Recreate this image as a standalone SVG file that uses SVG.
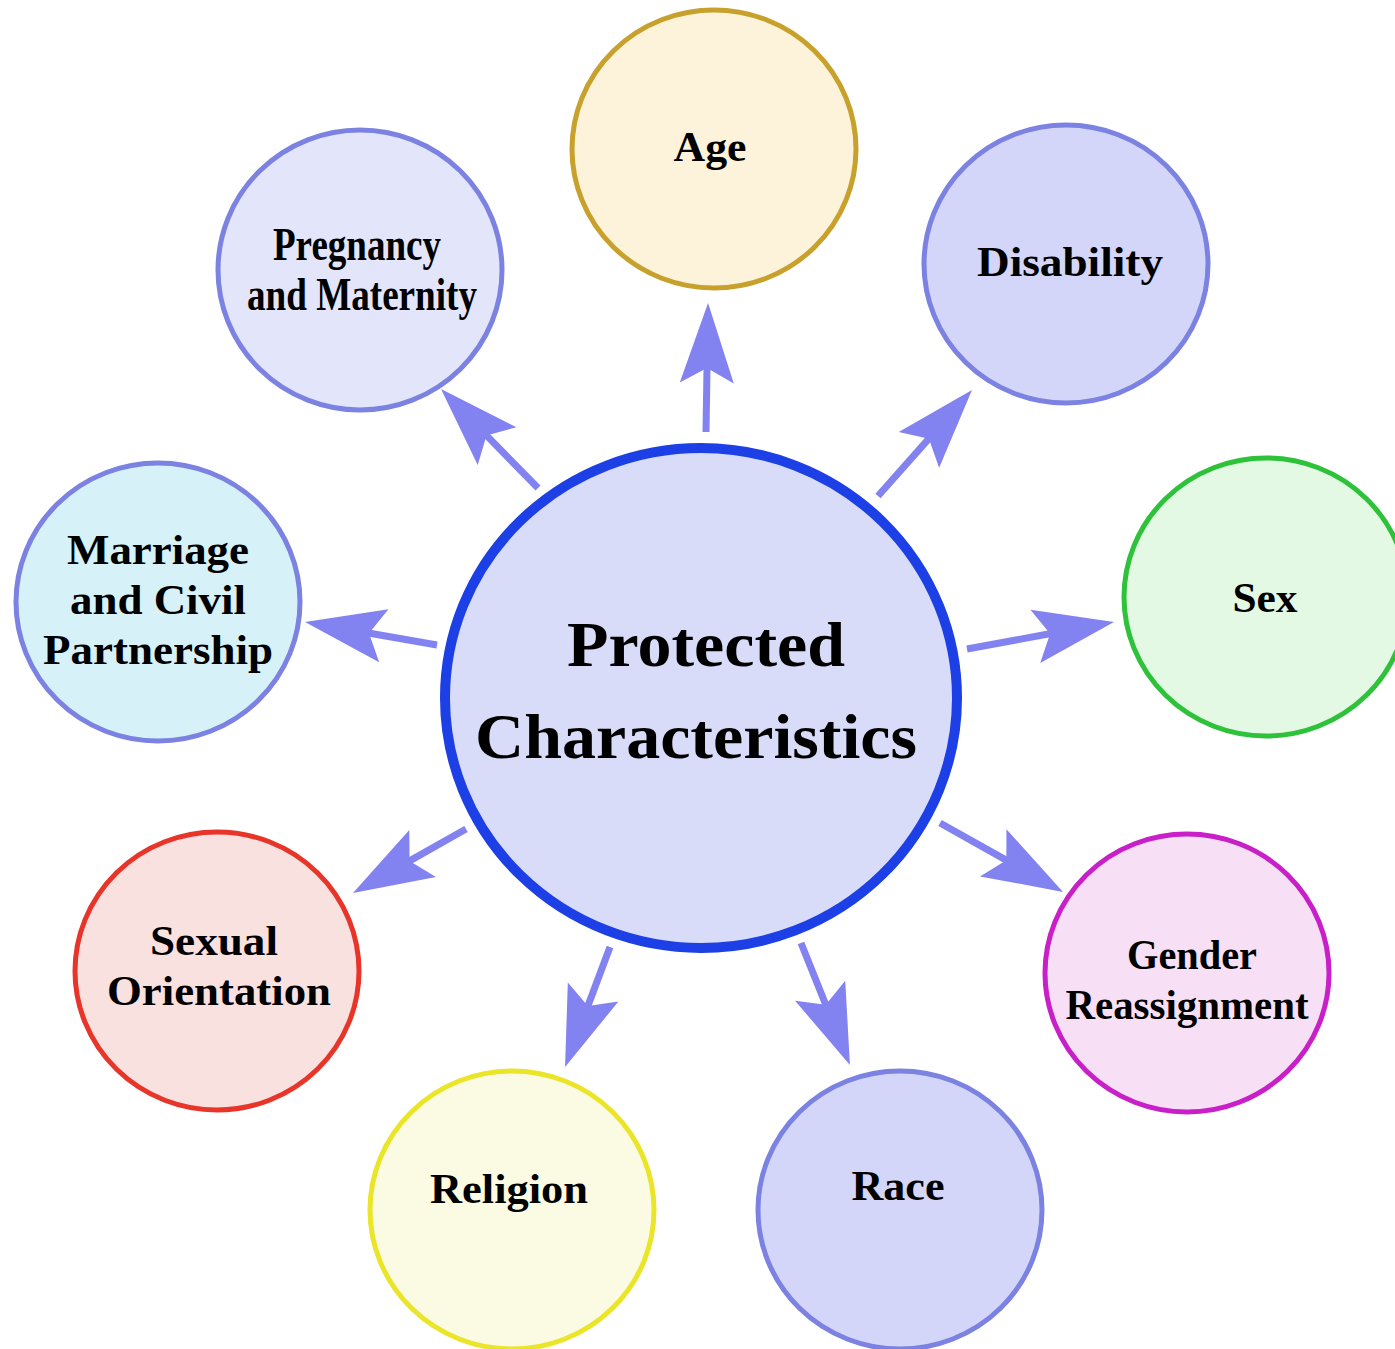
<svg xmlns="http://www.w3.org/2000/svg" width="1395" height="1349" viewBox="0 0 1395 1349">
<style>
  .node { stroke-width: 5; }
  .lbl { font-family: "Liberation Serif", "Times New Roman", serif; font-weight: bold; font-size: 42px; fill: #000; text-anchor: middle; }
  .big { font-size: 64px; }
  .tall { font-size: 46px; }
  .conn { stroke: #8282f0; stroke-width: 7; fill: none; marker-end: url(#head); }
</style>
<defs>
  <marker id="head" markerUnits="userSpaceOnUse" orient="auto" refX="0" refY="0" markerWidth="100" markerHeight="60" overflow="visible">
    <path d="M60,0 L-20,-27 L-5,0 L-20,27 Z" fill="#8282f0"/>
  </marker>
</defs>
<rect width="1395" height="1349" fill="#ffffff"/>

<g id="connectors">
  <line class="conn" x1="706" y1="432" x2="707.1" y2="363"/>
  <line class="conn" x1="878" y1="496" x2="932.2" y2="434.9"/>
  <line class="conn" x1="967" y1="649" x2="1055" y2="632.8"/>
  <line class="conn" x1="940" y1="823" x2="1010.7" y2="862.6"/>
  <line class="conn" x1="801" y1="943" x2="827.6" y2="1009.3"/>
  <line class="conn" x1="610" y1="947" x2="586.1" y2="1010.8"/>
  <line class="conn" x1="466" y1="829" x2="405.2" y2="863.4"/>
  <line class="conn" x1="437" y1="645" x2="364.1" y2="632.3"/>
  <line class="conn" x1="538" y1="488" x2="483" y2="431.9"/>
</g>

<g id="center">
  <ellipse cx="701" cy="698" rx="256" ry="250" fill="#d8dcf8" stroke="#1c3fe6" stroke-width="10"/>
  <text class="lbl big" x="706" y="666" textLength="278" lengthAdjust="spacingAndGlyphs">Protected</text>
  <text class="lbl big" x="696" y="758" textLength="442" lengthAdjust="spacingAndGlyphs">Characteristics</text>
</g>

<g id="age">
  <ellipse class="node" cx="714" cy="149" rx="142" ry="139" fill="#fcf3da" stroke="#c8a02c"/>
  <text class="lbl" x="710" y="161" textLength="73" lengthAdjust="spacingAndGlyphs">Age</text>
</g>

<g id="disability">
  <ellipse class="node" cx="1066" cy="264" rx="142" ry="139" fill="#d3d6f8" stroke="#7b82e2"/>
  <text class="lbl" x="1070" y="276" textLength="186" lengthAdjust="spacingAndGlyphs">Disability</text>
</g>

<g id="sex">
  <ellipse class="node" cx="1266" cy="597" rx="142" ry="139" fill="#e4f9e4" stroke="#2ec23a"/>
  <text class="lbl" x="1265" y="612" textLength="65" lengthAdjust="spacingAndGlyphs">Sex</text>
</g>

<g id="gender-reassignment">
  <ellipse class="node" cx="1187" cy="973" rx="142" ry="139" fill="#f7e0f5" stroke="#c81fc8"/>
  <text class="lbl" x="1192" y="969" textLength="130" lengthAdjust="spacingAndGlyphs">Gender</text>
  <text class="lbl" x="1187" y="1019" textLength="243" lengthAdjust="spacingAndGlyphs">Reassignment</text>
</g>

<g id="race">
  <ellipse class="node" cx="900" cy="1210" rx="142" ry="139" fill="#d3d6f8" stroke="#7b82e2"/>
  <text class="lbl" x="898" y="1200" textLength="93" lengthAdjust="spacingAndGlyphs">Race</text>
</g>

<g id="religion">
  <ellipse class="node" cx="512" cy="1210" rx="142" ry="139" fill="#fbfbe3" stroke="#ebe52a"/>
  <text class="lbl" x="509" y="1203" textLength="158" lengthAdjust="spacingAndGlyphs">Religion</text>
</g>

<g id="sexual-orientation">
  <ellipse class="node" cx="217" cy="971" rx="142" ry="139" fill="#f9e1e0" stroke="#e8352a"/>
  <text class="lbl" x="214" y="955" textLength="128" lengthAdjust="spacingAndGlyphs">Sexual</text>
  <text class="lbl" x="219" y="1005" textLength="224" lengthAdjust="spacingAndGlyphs">Orientation</text>
</g>

<g id="marriage">
  <ellipse class="node" cx="158" cy="602" rx="142" ry="139" fill="#d6f2f8" stroke="#7b82e2"/>
  <text class="lbl" x="158" y="564" textLength="182" lengthAdjust="spacingAndGlyphs">Marriage</text>
  <text class="lbl" x="158" y="614" textLength="176" lengthAdjust="spacingAndGlyphs">and Civil</text>
  <text class="lbl" x="158" y="664" textLength="230" lengthAdjust="spacingAndGlyphs">Partnership</text>
</g>

<g id="pregnancy">
  <ellipse class="node" cx="360" cy="270" rx="142" ry="140" fill="#e3e5fa" stroke="#7b82e2"/>
  <text class="lbl tall" x="357" y="260" textLength="168" lengthAdjust="spacingAndGlyphs">Pregnancy</text>
  <text class="lbl tall" x="362" y="310" textLength="230" lengthAdjust="spacingAndGlyphs">and Maternity</text>
</g>
</svg>
